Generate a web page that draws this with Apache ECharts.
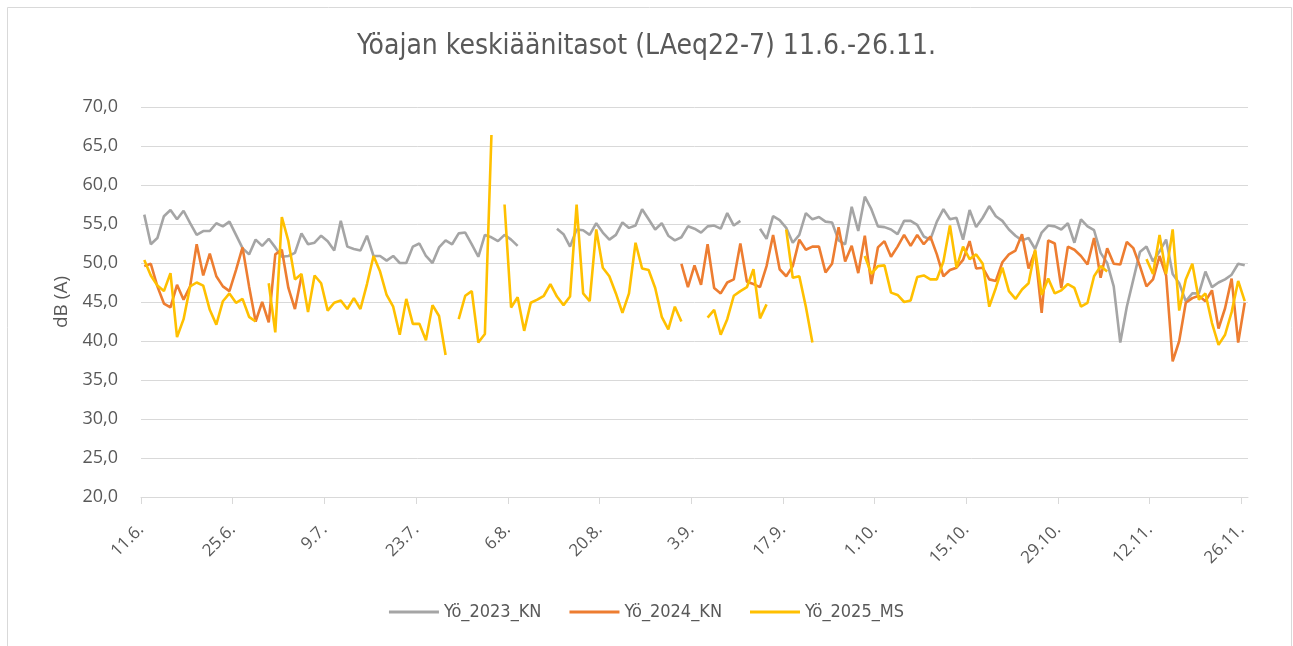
<!DOCTYPE html>
<html>
<head>
<meta charset="utf-8">
<script src="https://cdn.jsdelivr.net/npm/echarts@6/dist/echarts.min.js"></script>
<style>
  html, body { margin: 0; padding: 0; background: #fff; }
  #chart { width: 1293px; height: 646px; }
</style>
</head>
<body>
<div id="chart"></div>
<script>
// päivittäiset yökeskiarvot 11.6.–26.11. (169 päivää), null = ei mittausta
const tickLabels = ['11.6.', '25.6.', '9.7.', '23.7.', '6.8.', '20.8.', '3.9.', '17.9.', '1.10.', '15.10.', '29.10.', '12.11.', '26.11.']

const yo2023KN = [
  56.2, 52.4, 53.2, 56.0, 56.8, 55.6, 56.7, 55.1, 53.6, 54.1, 54.1, 55.1, 54.7, 55.3,
  53.6, 51.9, 51.1, 53.0, 52.2, 53.1, 52.0, 50.8, 50.9, 51.3, 53.8, 52.4, 52.6, 53.5,
  52.8, 51.6, 55.4, 52.1, 51.8, 51.6, 53.5, 50.9, 50.9, 50.3, 50.9, 50.0, 50.0, 52.1,
  52.5, 50.9, 50.0, 52.0, 52.9, 52.4, 53.8, 53.9, 52.4, 50.8, 53.6, 53.3, 52.8, 53.6,
  53.0, 52.2, null, null, null, null, null, 54.4, 53.7, 52.1, 54.3, 54.2, 53.6, 55.1,
  53.9, 53.0, 53.6, 55.2, 54.5, 54.8, 56.9, 55.6, 54.3, 55.1, 53.5, 52.9, 53.3, 54.7,
  54.4, 53.9, 54.7, 54.8, 54.4, 56.4, 54.8, 55.4, null, null, 54.4, 53.1, 56.0, 55.5,
  54.5, 52.6, 53.6, 56.4, 55.6, 55.9, 55.3, 55.2, 52.9, 52.4, 57.2, 54.1, 58.5, 56.9,
  54.7, 54.6, 54.3, 53.7, 55.4, 55.4, 54.9, 53.4, 53.0, 55.3, 56.9, 55.6, 55.8, 53.0,
  56.8, 54.6, 55.8, 57.3, 56.0, 55.4, 54.3, 53.5, 52.9, 53.2, 51.8, 53.9, 54.8, 54.7,
  54.3, 55.1, 52.6, 55.6, 54.7, 54.2, 51.3, 50.0, 47.0, 39.8, 44.4, 47.9, 51.4, 52.1,
  50.2, 51.5, 53.0, 48.6, 47.4, 45.1, 46.1, 46.1, 48.9, 46.9, 47.5, 47.9, 48.5, 49.9, 49.7
]

const yo2024KN = [
  49.6, 49.9, 47.0, 44.8, 44.3, 47.2, 45.3, 47.0, 52.4, 48.4, 51.2, 48.3, 47.0, 46.4,
  49.1, 52.0, 47.0, 42.5, 45.0, 42.4, 51.1, 51.7, 46.8, 44.1, 48.3, null, null, null,
  null, null, null, null, null, null, null, null, null, null, null, null, null, null,
  null, null, null, null, null, null, null, null, null, null, null, null, null, null,
  null, null, null, null, null, null, null, null, null, null, null, null, null, null,
  null, null, null, null, null, null, null, null, null, null, null, null, 49.9, 46.9,
  49.7, 47.2, 52.4, 46.8, 46.1, 47.5, 47.9, 52.5, 47.6, 47.3, 46.9, 49.6, 53.6, 49.2,
  48.3, 49.6, 53.0, 51.7, 52.1, 52.1, 48.8, 49.9, 54.6, 50.2, 52.2, 48.7, 53.5, 47.3,
  52.0, 52.8, 50.8, 52.1, 53.6, 52.2, 53.6, 52.4, 53.4, 51.1, 48.3, 49.1, 49.4, 50.4,
  52.8, 49.3, 49.4, 47.9, 47.7, 50.1, 51.1, 51.6, 53.7, 49.3, 51.5, 43.6, 52.9, 52.5,
  46.8, 52.1, 51.7, 50.9, 49.8, 53.2, 48.1, 51.9, 49.9, 49.8, 52.7, 51.9, 49.6, 47.0,
  47.9, 50.9, 48.4, 37.4, 40.0, 44.9, 45.5, 45.8, 45.1, 46.5, 41.6, 44.2, 48.0, 39.8, 44.9
]

const yo2025MS = [
  50.4, 48.4, 47.1, 46.4, 48.7, 40.5, 42.8, 47.0, 47.5, 47.1, 44.0, 42.1, 45.1, 46.1,
  44.9, 45.4, 43.1, 42.5, null, 47.4, 41.1, 55.9, 52.8, 47.9, 48.6, 43.7, 48.4, 47.4,
  43.9, 44.9, 45.2, 44.1, 45.5, 44.1, 47.3, 50.9, 48.9, 45.9, 44.4, 40.8, 45.4, 42.2,
  42.2, 40.1, 44.6, 43.2, 38.2, null, 42.8, 45.8, 46.4, 39.8, 40.9, 66.4, null, 57.5,
  44.3, 45.6, 41.3, 44.9, 45.3, 45.8, 47.3, 45.7, 44.6, 45.7, 57.5, 46.1, 45.1, 54.3,
  49.4, 48.3, 46.1, 43.6, 46.1, 52.6, 49.3, 49.1, 46.8, 43.1, 41.5, 44.4, 42.5, null,
  null, null, 43.0, 44.0, 40.8, 42.8, 45.8, 46.4, 46.9, 49.2, 42.9, 44.7, null, null,
  54.3, 48.1, 48.3, 44.4, 39.8, null, null, null, null, null, null, null, 50.9, 48.6,
  49.6, 49.7, 46.2, 45.9, 45.0, 45.2, 48.2, 48.4, 47.9, 47.9, 50.2, 54.8, 49.4, 52.1,
  50.5, 51.1, 49.9, 44.4, 46.8, 49.4, 46.4, 45.4, 46.6, 47.4, 51.7, 45.9, 48.0, 46.1,
  46.5, 47.3, 46.8, 44.4, 44.9, 48.3, 49.6, 48.9, null, null, null, null, null, 50.5,
  48.6, 53.6, 48.6, 54.3, 43.9, 47.9, 49.9, 45.3, 46.1, 42.3, 39.5, 40.8, 43.7, 47.7, 45.1
]

const DAYS_PER_TICK = 14
const textColor = '#595959'
const gridColor = '#d9d9d9'
const condensed = '"Liberation Sans Narrow", "DejaVu Sans Condensed", "DejaVu Sans", sans-serif'

// päivä i piirretään kategorian keskelle (i + 0.5), kuten Excelin "tick marks between"
const toPoints = arr => arr.map((v, i) => [i + 0.5, v == null ? '-' : v])
const tickValues = tickLabels.map((_, i) => i * DAYS_PER_TICK)

const lineSeries = (name, data, color) => ({
  name,
  type: 'line',
  data: toPoints(data),
  showSymbol: false,
  symbol: 'none',
  connectNulls: false,
  lineStyle: {color, width: 2.6},
  itemStyle: {color},
  animation: false
})

const myChart = echarts.init(document.getElementById('chart'))

myChart.setOption({
  backgroundColor: '#fff',
  title: {
    text: 'Yöajan keskiäänitasot (LAeq22-7) 11.6.-26.11.',
    left: 'center',
    top: 28,
    textStyle: {fontFamily: condensed, fontSize: 28, fontWeight: 'normal', color: textColor}
  },
  legend: {
    bottom: 20,
    left: 'center',
    icon: 'rect',
    itemWidth: 50,
    itemHeight: 3,
    itemGap: 28,
    textStyle: {fontFamily: condensed, fontSize: 18, color: textColor},
    data: ['Yö_2023_KN', 'Yö_2024_KN', 'Yö_2025_MS']
  },
  grid: {left: 141, right: 45, top: 107, bottom: 149},
  xAxis: {
    type: 'value',
    min: 0,
    max: yo2023KN.length,
    splitLine: {show: false},
    axisLine: {lineStyle: {color: gridColor, width: 1}},
    axisTick: {customValues: tickValues, length: 7, lineStyle: {color: gridColor}},
    axisLabel: {
      customValues: tickValues,
      rotate: 45,
      margin: 30,
      fontFamily: '"Open Sans", sans-serif',
      fontSize: 17,
      color: textColor,
      formatter: v => tickLabels[Math.round(v / DAYS_PER_TICK)] || ''
    }
  },
  yAxis: {
    type: 'value',
    min: 20,
    max: 70,
    interval: 5,
    name: 'dB (A)',
    nameLocation: 'middle',
    nameGap: 55,
    nameTextStyle: {fontFamily: '"Open Sans", sans-serif', fontSize: 19, color: textColor},
    axisLine: {show: false},
    axisTick: {show: false},
    splitLine: {lineStyle: {color: gridColor, width: 1}},
    axisLabel: {
      margin: 23,
      fontFamily: '"Open Sans", sans-serif',
      fontSize: 18,
      color: textColor,
      formatter: v => v.toFixed(1).replace('.', ',')
    }
  },
  graphic: [{
    type: 'rect',
    shape: {x: 7.5, y: 7.5, width: 1284, height: 660},
    style: {fill: 'none', stroke: gridColor, lineWidth: 1},
    silent: true
  }],
  series: [
    lineSeries('Yö_2023_KN', yo2023KN, '#a5a5a5'),
    lineSeries('Yö_2024_KN', yo2024KN, '#ed7d31'),
    lineSeries('Yö_2025_MS', yo2025MS, '#ffc000')
  ]
})

window.addEventListener('resize', () => myChart && myChart.resize())
</script>
</body>
</html>
